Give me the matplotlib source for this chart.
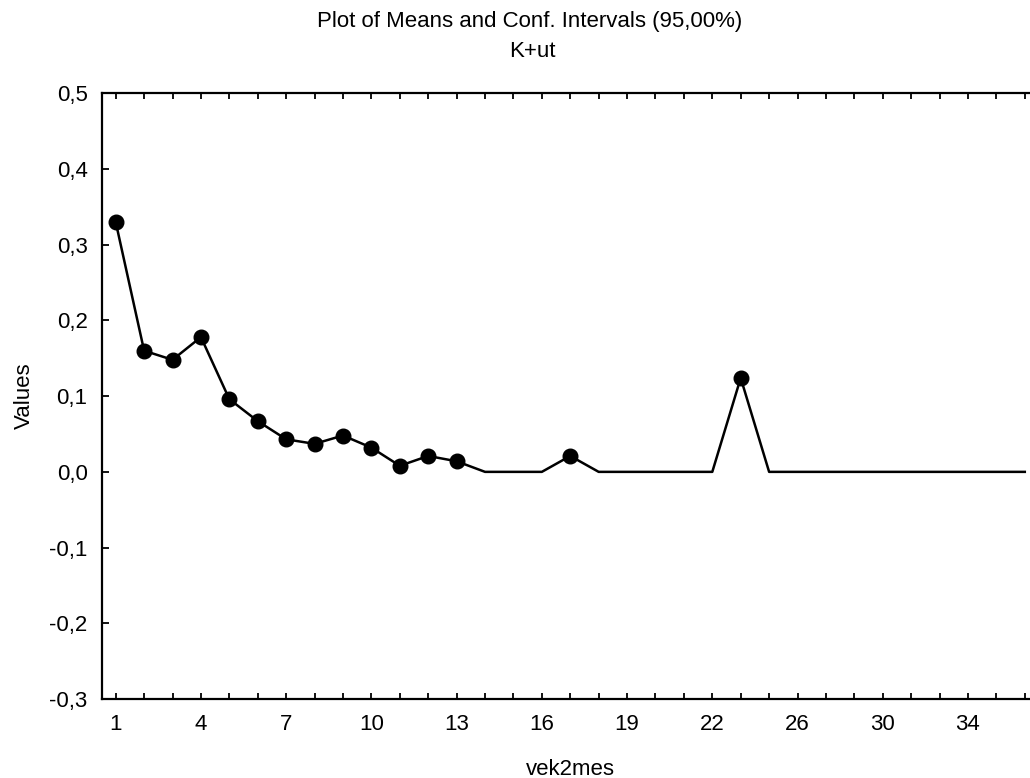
import matplotlib
matplotlib.use("Agg")
import matplotlib.pyplot as plt
from matplotlib.ticker import FixedLocator, FuncFormatter
import numpy as np

plt.rcParams['font.family'] = ['Liberation Sans', 'DejaVu Sans']

# vek2mes categories and the mean of K+ut for each
categories = [1, 2, 3, 4, 5, 6, 7, 8, 9, 10, 11, 12, 13, 14, 15, 16, 17, 18,
              19, 20, 21, 22, 23, 24, 26, 27, 28, 30, 31, 32, 34, 35, 36]
means = [0.33, 0.16, 0.148, 0.178, 0.096, 0.067, 0.043, 0.037, 0.048, 0.032,
         0.008, 0.021, 0.014, 0.0, 0.0, 0.0, 0.021, 0.0, 0.0, 0.0, 0.0, 0.0,
         0.124, 0.0, 0.0, 0.0, 0.0, 0.0, 0.0, 0.0, 0.0, 0.0, 0.0]
y_ticks = [-0.3, -0.2, -0.1, 0.0, 0.1, 0.2, 0.3, 0.4, 0.5]

title_line1 = "Plot of Means and Conf. Intervals (95,00%)"
title_line2 = "K+ut"
x_label = "vek2mes"
y_label = "Values"

FS = 16
fig = plt.figure(figsize=(10.30, 7.78), dpi=100)
W, H = 1030, 778
left, right, top, bottom = 101.5, 1039.0, 93.3, 699.0
ax = fig.add_axes([left / W, 1 - bottom / H, (right - left) / W, (bottom - top) / H])

idx = np.arange(len(categories))
vals = np.array(means)
ax.plot(idx, vals, color='black', lw=1.8, marker='o', ms=10.5,
        markevery=list(vals != 0), mfc='black', mec='black', zorder=3)

ax.set_xlim(-0.5, len(categories) - 0.5)
ax.set_ylim(-0.3, 0.5)

ax.xaxis.set_major_locator(FixedLocator(idx))
ax.set_xticklabels([str(c) if i % 3 == 0 else '' for i, c in enumerate(categories)])
ax.yaxis.set_major_locator(FixedLocator(y_ticks))
ax.yaxis.set_major_formatter(FuncFormatter(lambda v, p: f"{v:.1f}".replace('.', ',')))

ax.tick_params(axis='x', direction='in', length=4, width=1.3, top=True, bottom=True,
               labelsize=FS, pad=11)
ax.tick_params(axis='y', direction='in', length=5, width=1.3, left=True, right=True,
               labelsize=FS, pad=10)
for s in ax.spines.values():
    s.set_linewidth(1.6)

# axis titles placed by baseline in figure pixels
fig.text(570 / W, 1 - 775 / H, x_label, ha='center', va='baseline', fontsize=FS)
fig.text(30 / W, 1 - 396 / H, y_label, ha='center', va='baseline', rotation=90,
         rotation_mode='anchor', fontsize=FS)

fig.text(530 / W, 1 - 27 / H, title_line1, ha='center', va='baseline', fontsize=FS)
fig.text(532 / W, 1 - 57 / H, title_line2, ha='center', va='baseline', fontsize=FS)

fig.savefig("out.png", dpi=100)
